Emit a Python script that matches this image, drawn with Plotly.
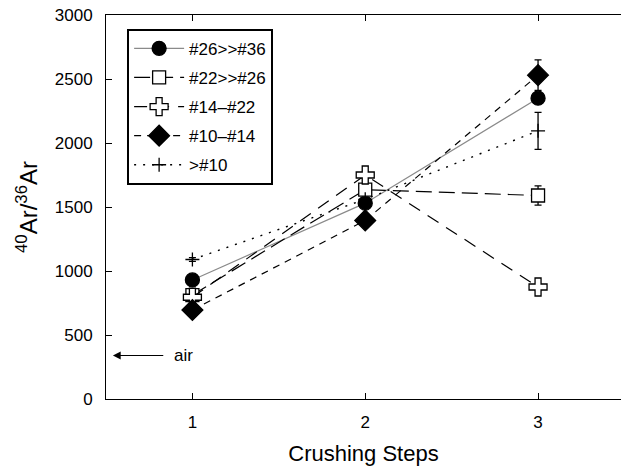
import plotly.graph_objects as go

steps = [1, 2, 3]

# 40Ar/36Ar per crushing step, by sieve fraction
names = ["#26>>#36", "#22>>#26", "#14\u2013#22", "#10\u2013#14", ">#10"]
ratio_26_36 = [930, 1530, 2350]
ratio_22_26 = [812, 1635, 1590]
ratio_14_22 = [795, 1750, 875]
ratio_10_14 = [695, 1395, 2530]
ratio_gt10 = [1090, 1560, 2095]

err_26_36 = [0, 0, 0]
err_22_26 = [0, 0, 75]
err_14_22 = [0, 0, 0]
err_10_14 = [0, 0, 120]
err_gt10 = [15, 0, 145]

air_ratio = 340
y_ticks = [0, 500, 1000, 1500, 2000, 2500, 3000]
x_ticks = [1, 2, 3]

FONT = "Liberation Sans, Arial, Helvetica, sans-serif"

series = [
    dict(y=ratio_26_36, e=err_26_36, symbol="circle", size=14, fill="black",
         lcolor="#8a8a8a", dash="solid", lw=1.2),
    dict(y=ratio_22_26, e=err_22_26, symbol="square", size=13, fill="white",
         lcolor="black", dash="16px,7px", lw=1.2),
    dict(y=ratio_14_22, e=err_14_22, symbol="cross", size=15, fill="white",
         lcolor="black", dash="13px,9px", lw=1.2),
    dict(y=ratio_10_14, e=err_10_14, symbol="diamond", size=16, fill="black",
         lcolor="black", dash="7px,6px", lw=1.2),
    dict(y=ratio_gt10, e=err_gt10, symbol="cross-thin", size=10, fill="black",
         lcolor="black", dash="2px,7px", lw=1.4),
]

fig = go.Figure()
for i, (name, s) in enumerate(zip(names, series)):
    fig.add_trace(go.Scatter(
        x=steps, y=s["y"], name=name, mode="lines+markers",
        legendgroup=f"g{i}",
        line=dict(color=s["lcolor"], width=s["lw"], dash=s["dash"]),
        marker=dict(symbol=s["symbol"], size=s["size"], color=s["fill"],
                    line=dict(color="black", width=1.3)),
        error_y=dict(type="data", array=s["e"], visible=True,
                     color="black", thickness=1.3, width=3.5),
    ))

# atmospheric reference value
fig.add_annotation(x=0.54, y=air_ratio, ax=0.84, ay=air_ratio,
                   xref="x", yref="y", axref="x", ayref="y",
                   text="", showarrow=True, arrowhead=2, arrowsize=1.3,
                   arrowwidth=1.2, arrowcolor="black")
fig.add_annotation(x=0.88, y=air_ratio, xref="x", yref="y", text="air",
                   showarrow=False, xanchor="left",
                   font=dict(family=FONT, size=17, color="black"))

fig.update_layout(
    width=621, height=468,
    margin=dict(l=106, r=0, t=15, b=69),
    plot_bgcolor="white", paper_bgcolor="white",
    font=dict(family=FONT, color="black"),
    showlegend=True,
    legend=dict(x=0.041, y=0.964, xanchor="left", yanchor="top",
                bgcolor="white", bordercolor="black", borderwidth=2,
                font=dict(family=FONT, size=17, color="black"),
                tracegroupgap=4, itemwidth=50, traceorder="grouped",
                entrywidth=125, entrywidthmode="pixels"),
    xaxis=dict(range=[0.5, 3.48], tickvals=x_ticks, ticks="inside", ticklen=6,
               tickcolor="black", showline=True, linecolor="black", linewidth=1,
               mirror="ticks", showgrid=False, zeroline=False,
               tickfont=dict(size=17), ticklabelstandoff=8,
               title=dict(text="Crushing Steps", font=dict(size=22), standoff=14)),
    yaxis=dict(range=[0, 3000], tickvals=y_ticks, ticks="inside", ticklen=6,
               tickcolor="black", showline=True, linecolor="black", linewidth=1,
               showgrid=False, zeroline=False, tickfont=dict(size=17),
               ticklabelstandoff=9,
               title=dict(text="<sup>40</sup>Ar/<sup>36</sup>Ar",
                          font=dict(size=24), standoff=10)),
)

fig.write_html("out.html")
